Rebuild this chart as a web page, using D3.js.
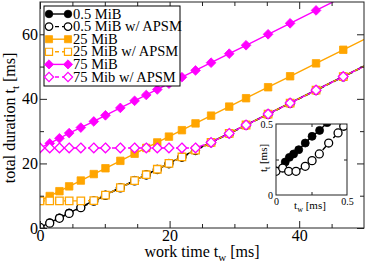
<!DOCTYPE html>
<html>
<head>
<meta charset="utf-8">
<script src="https://cdn.jsdelivr.net/npm/d3@7"></script>
<style>
  body { margin: 0; background: #fff; }
</style>
</head>
<body>
<div id="chart"></div>
<script>
const FRAME_WIDTH = 366;
const FRAME_HEIGHT = 264;
const MARGINS = {left: 40, right: 2, top: 2, bottom: 36};
const FONT = "'Liberation Serif', 'Times New Roman', 'DejaVu Serif', serif";

// work time t_w [ms], shared by all main series
const TW = [0, 1.5, 3, 4.5, 6.3, 8.3, 10.1, 12.4, 14.6, 16.4, 18.1, 19.9, 21.9, 24.0,
            26.4, 29.2, 31.8, 35.2, 38.6, 42.6, 46.8, 51.2];

// total duration t_t [ms]
const MIB05 = [0.17, 1.66, 3.16, 4.66, 6.46, 8.46, 10.26, 12.56, 14.76, 16.56, 18.26, 20.06,
               22.06, 24.16, 26.56, 29.36, 31.96, 35.36, 38.76, 42.76, 46.96, 51.36];
const MIB05_APSM = [0.17, 1.5, 3.0, 4.5, 6.3, 8.3, 10.1, 12.4, 14.6, 16.4, 18.1, 19.9,
                    21.9, 24.0, 26.4, 29.2, 31.8, 35.2, 38.6, 42.6, 46.8, 51.2];
const MIB25 = [8.4, 9.9, 11.4, 12.9, 14.7, 16.7, 18.5, 20.8, 23.0, 24.8, 26.5, 28.3,
               30.3, 32.4, 34.8, 37.6, 40.2, 43.6, 47.0, 51.0, 55.2, 59.6];
const MIB25_APSM = [8.4, 8.4, 8.4, 8.4, 8.4, 8.5, 10.2, 12.5, 14.7, 16.5, 18.2, 20.0,
                    22.0, 24.1, 26.5, 29.3, 31.9, 35.3, 38.7, 42.7, 46.9, 51.3];
const MIB75 = [24.8, 26.2, 27.8, 29.4, 31.1, 33.0, 34.9, 37.2, 39.4, 41.2, 42.9, 44.7,
               46.7, 48.8, 51.2, 54.0, 56.6, 60.0, 63.4, 67.4, 71.6, 76.0];
const MIB75_APSM = [24.8, 24.8, 24.8, 24.8, 24.8, 24.8, 24.8, 24.8, 24.8, 24.8, 24.8, 24.8,
                    24.8, 24.8, 26.5, 29.3, 31.9, 35.3, 38.7, 42.7, 46.9, 51.3];

// inset (0.5 MiB, small work times)
const INSET_TW = [0, 0.065, 0.094, 0.124, 0.16, 0.206, 0.254, 0.307, 0.36];
const INSET_TT = [0.17, 0.232, 0.265, 0.289, 0.319, 0.366, 0.413, 0.455, 0.51];
const INSET_TW_APSM = [0, 0.047, 0.089, 0.141, 0.206, 0.254, 0.305, 0.371, 0.437, 0.477];
const INSET_TT_APSM = [0.167, 0.19, 0.167, 0.167, 0.202, 0.242, 0.289, 0.366, 0.437, 0.484];

const LEGEND_LABELS = ["0.5 MiB", "0.5 MiB w/ APSM", "25 MiB", "25 MiB w/ APSM",
                       "75 MiB", "75 Mib w/ APSM"];

const X_TICKS = [0, 20, 40];
const Y_TICKS = [0, 20, 40, 60];
const INSET_TICKS = [0, 0.5];

const SERIES = [
  {tt: MIB05, color: "#000", shape: "circle", filled: true, dash: null},
  {tt: MIB05_APSM, color: "#000", shape: "circle", filled: false, dash: "5,3"},
  {tt: MIB25, color: "#ffa500", shape: "square", filled: true, dash: null},
  {tt: MIB25_APSM, color: "#ffa500", shape: "square", filled: false, dash: "5,3"},
  {tt: MIB75, color: "#ff00ff", shape: "diamond", filled: true, dash: null},
  {tt: MIB75_APSM, color: "#ff00ff", shape: "diamond", filled: false, dash: "5,3"}
];

const SVG = d3.select("#chart")
              .append("svg")
                .attr("width", FRAME_WIDTH)
                .attr("height", FRAME_HEIGHT)
                .style("font-family", FONT);

const X_SCALE = d3.scaleLinear().domain([0, 50])
                  .range([MARGINS.left, FRAME_WIDTH - MARGINS.right]);
const Y_SCALE = d3.scaleLinear().domain([0, 70])
                  .range([FRAME_HEIGHT - MARGINS.bottom, MARGINS.top]);

function symbolPath(shape, size) {
  let type = d3.symbolCircle;
  if (shape === "square") type = d3.symbolSquare;
  if (shape === "diamond") type = d3.symbolDiamond2;
  return d3.symbol().type(type).size(size)();
}

function symSize(shape) {
  if (shape === "circle") return 50;
  if (shape === "square") return 56;
  return 60;
}

// frame + inward ticks on all four sides
function drawFrame(g, xs, ys, xMajor, xMinor, yMajor, yMinor, majLen, minLen, fontSize, pad, fmt) {
  const x0 = xs.range()[0], x1 = xs.range()[1];
  const y0 = ys.range()[0], y1 = ys.range()[1];

  const parts = [
    [d3.axisBottom(xs), "translate(0," + y0 + ")", xMajor, majLen, true],
    [d3.axisBottom(xs), "translate(0," + y0 + ")", xMinor, minLen, false],
    [d3.axisTop(xs), "translate(0," + y1 + ")", xMajor, majLen, false],
    [d3.axisTop(xs), "translate(0," + y1 + ")", xMinor, minLen, false],
    [d3.axisLeft(ys), "translate(" + x0 + ",0)", yMajor, majLen, true],
    [d3.axisLeft(ys), "translate(" + x0 + ",0)", yMinor, minLen, false],
    [d3.axisRight(ys), "translate(" + x1 + ",0)", yMajor, majLen, false],
    [d3.axisRight(ys), "translate(" + x1 + ",0)", yMinor, minLen, false]
  ];
  parts.forEach((p) => {
    const ax = p[0].tickValues(p[2]).tickSize(-p[3]).tickSizeOuter(0).tickPadding(pad);
    ax.tickFormat(p[4] ? fmt : "");
    const a = g.append("g").attr("transform", p[1]).call(ax);
    a.attr("font-family", null).attr("font-size", null);
    a.select(".domain").remove();
    a.selectAll("text").style("font-family", FONT).style("font-size", fontSize + "px");
  });

  g.selectAll(".tick line").attr("stroke", "#222");

  g.append("rect")
    .attr("x", x0).attr("y", y1)
    .attr("width", x1 - x0).attr("height", y0 - y1)
    .attr("fill", "none").attr("stroke", "#222").attr("stroke-width", 1);
}

function drawSeries(g, xs, ys, tw, tt, s, clipId) {
  const pts = tw.map((d, i) => [d, tt[i]]);
  const holder = g.append("g").attr("clip-path", "url(#" + clipId + ")");
  holder.append("path")
    .datum(pts)
    .attr("d", d3.line().x((d) => xs(d[0])).y((d) => ys(d[1])))
    .attr("fill", "none")
    .attr("stroke", s.color)
    .attr("stroke-width", 1.4)
    .attr("stroke-dasharray", s.dash);
  holder.selectAll(".pt")
    .data(pts)
    .enter()
    .append("path")
      .attr("transform", (d) => "translate(" + xs(d[0]) + "," + ys(d[1]) + ")")
      .attr("d", symbolPath(s.shape, symSize(s.shape)))
      .attr("fill", s.filled ? s.color : "#fff")
      .attr("stroke", s.color)
      .attr("stroke-width", s.filled ? 0.8 : 1.3);
}

const DEFS = SVG.append("defs");
DEFS.append("clipPath").attr("id", "mainclip")
  .append("rect")
    .attr("x", X_SCALE.range()[0]).attr("y", Y_SCALE.range()[1])
    .attr("width", X_SCALE.range()[1] - X_SCALE.range()[0])
    .attr("height", Y_SCALE.range()[0] - Y_SCALE.range()[1]);

const MAIN = SVG.append("g");
SERIES.forEach((s) => drawSeries(MAIN, X_SCALE, Y_SCALE, TW, s.tt, s, "mainclip"));

drawFrame(SVG.append("g"), X_SCALE, Y_SCALE,
          X_TICKS, [5, 10, 15, 25, 30, 35, 45], Y_TICKS, [10, 30, 50], 7, 4, 16, 2, d3.format("d"));

// axis titles
function subTitle(t, main, sub, rest, size, subSize, shift) {
  t.append("tspan").text(main);
  t.append("tspan").style("font-size", subSize + "px").attr("dy", shift).text(sub);
  t.append("tspan").attr("dy", -shift).text(rest);
  t.style("font-size", size + "px").style("font-family", FONT).attr("text-anchor", "middle");
}

subTitle(SVG.append("text").attr("x", 202).attr("y", 257),
         "work time t", "w", " [ms]", 16, 11, 4);
subTitle(SVG.append("text").attr("transform", "translate(15,118) rotate(-90)"),
         "total duration t", "t", " [ms]", 16, 11, 4);

// legend
const LEG = SVG.append("g");
LEG.append("rect")
  .attr("x", 44).attr("y", 6).attr("width", 136).attr("height", 80)
  .attr("fill", "#fff").attr("stroke", "#000").attr("stroke-width", 1);
SERIES.forEach((s, i) => {
  const y = 14 + i * 12.6;
  LEG.append("line")
    .attr("x1", 49).attr("x2", 68).attr("y1", y).attr("y2", y)
    .attr("stroke", s.color).attr("stroke-width", 1.4)
    .attr("stroke-dasharray", s.dash ? "4,3" : null)
    .attr("stroke-dashoffset", s.dash ? -6 : null);
  [49, 68].forEach((x) => {
    LEG.append("path")
      .attr("transform", "translate(" + x + "," + y + ")")
      .attr("d", symbolPath(s.shape, symSize(s.shape) * 0.9))
      .attr("fill", s.filled ? s.color : "#fff")
      .attr("stroke", s.color)
      .attr("stroke-width", s.filled ? 0.8 : 1.2);
  });
  LEG.append("text")
    .attr("x", 73).attr("y", y + 4.5)
    .style("font-family", FONT)
    .style("font-size", "14.5px")
    .text(LEGEND_LABELS[i]);
});

// inset
const IX = d3.scaleLinear().domain([0, 0.5]).range([276, 347]);
const IY = d3.scaleLinear().domain([0, 0.5]).range([195, 124]);
DEFS.append("clipPath").attr("id", "insetclip")
  .append("rect").attr("x", 276).attr("y", 124).attr("width", 71).attr("height", 71);

const INSET = SVG.append("g");
INSET.append("rect").attr("x", 276).attr("y", 124).attr("width", 71).attr("height", 71)
  .attr("fill", "#fff");
drawSeries(INSET, IX, IY, INSET_TW, INSET_TT, SERIES[0], "insetclip");
drawSeries(INSET, IX, IY, INSET_TW_APSM, INSET_TT_APSM, SERIES[1], "insetclip");
drawFrame(INSET.append("g"), IX, IY, INSET_TICKS, [0.25], INSET_TICKS, [0.25], 0, 3, 10, 3,
          (d) => (d === 0 ? "0" : "0.5"));

subTitle(SVG.append("text").attr("x", 310).attr("y", 209),
         "t", "w", " [ms]", 11, 8, 3);
subTitle(SVG.append("text").attr("transform", "translate(267,158) rotate(-90)"),
         "t", "t", " [ms]", 11, 8, 3);
</script>
</body>
</html>
